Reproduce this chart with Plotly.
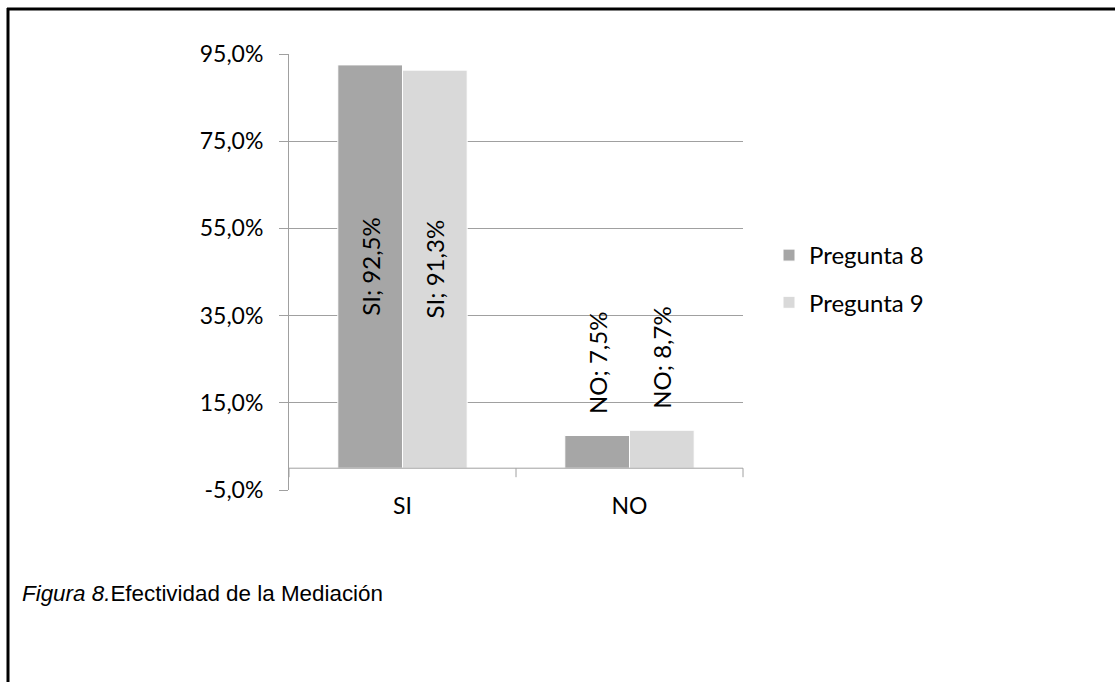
import plotly.graph_objects as go

# Respuestas por categoría (porcentajes)
categorias = ["SI", "NO"]
pregunta_8 = [92.5, 7.5]
pregunta_9 = [91.3, 8.7]
series = ["Pregunta 8", "Pregunta 9"]
colores = ["#a6a6a6", "#d9d9d9"]

# Escala del eje de valores
ticks_y = [-5, 15, 35, 55, 75, 95]
etiquetas_y = ["-5,0%", "15,0%", "35,0%", "55,0%", "75,0%", "95,0%"]

W, H = 1115, 682
L, R, T, B = 289, 372, 54, 192
plot_w = W - L - R
plot_h = H - T - B

FONT = "Lato"
GRID = "#a0a0a0"

fig = go.Figure()
for nombre, valores, color, grupo in zip(series, [pregunta_8, pregunta_9], colores, ["a", "b"]):
    dentro = [v > 50 for v in valores]
    fig.add_trace(go.Bar(
        name=nombre,
        x=categorias,
        y=valores,
        marker=dict(color=color, line=dict(color="white", width=1)),
        # las etiquetas fuera de la barra se separan un poco del borde superior
        texttemplate=["%{x}; %{y:.1f}%" if d else "&nbsp;&nbsp;&nbsp;%{x}; %{y:.1f}%" for d in dentro],
        textposition=["inside" if d else "outside" for d in dentro],
        insidetextanchor="middle",
        constraintext="none",
        textangle=-90,
        textfont=dict(family=FONT, size=24, color="black"),
        cliponaxis=False,
        legendgroup=grupo,
    ))

def px_x(px):
    return (px - L) / plot_w

def px_y(py):
    return (H - B - py) / plot_h

shapes = [
    # marco del documento
    dict(type="line", xref="paper", yref="paper", x0=px_x(7), x1=px_x(W), y0=px_y(9), y1=px_y(9),
         line=dict(color="black", width=3)),
    dict(type="line", xref="paper", yref="paper", x0=px_x(8), x1=px_x(8), y0=px_y(8), y1=px_y(H),
         line=dict(color="black", width=3)),
    # eje de categorías en 0
    dict(type="line", xref="x domain", yref="y", x0=0, x1=1, y0=0, y1=0,
         line=dict(color=GRID, width=1), layer="above"),
]
for xd in [0, 0.5, 1]:
    shapes.append(dict(type="line", xref="x domain", yref="y", x0=xd, x1=xd,
                       ysizemode="pixel", yanchor=0, y0=0, y1=-9,
                       line=dict(color=GRID, width=1)))

fig.update_layout(
    width=W, height=H,
    margin=dict(l=L, r=R, t=T, b=B),
    paper_bgcolor="white", plot_bgcolor="white",
    barmode="group", bargap=0.43, bargroupgap=0,
    separators=",.",
    showlegend=True,
    legend=dict(x=px_x(769), y=px_y(233), xanchor="left", yanchor="top",
                font=dict(family=FONT, size=24, color="black"),
                traceorder="grouped", tracegroupgap=13, itemwidth=30),
    title=dict(text="<i>Figura 8.</i>Efectividad de la Mediación",
               x=22 / W, xanchor="left", y=1 - 593 / H, yanchor="middle",
               font=dict(family="Liberation Sans", size=22.4, color="black")),
    shapes=shapes,
    xaxis=dict(showline=False, showgrid=False, ticks="",
               tickfont=dict(family=FONT, size=23, color="black")),
    yaxis=dict(range=[-5, 95], tickmode="array", tickvals=ticks_y, ticktext=etiquetas_y,
               showgrid=True, gridcolor=GRID, gridwidth=1, zeroline=False,
               showline=True, linecolor=GRID, linewidth=1,
               ticks="outside", ticklen=9, tickcolor=GRID,
               ticklabelstandoff=11,
               tickfont=dict(family=FONT, size=23, color="black")),
)

fig.write_html("out.html")
